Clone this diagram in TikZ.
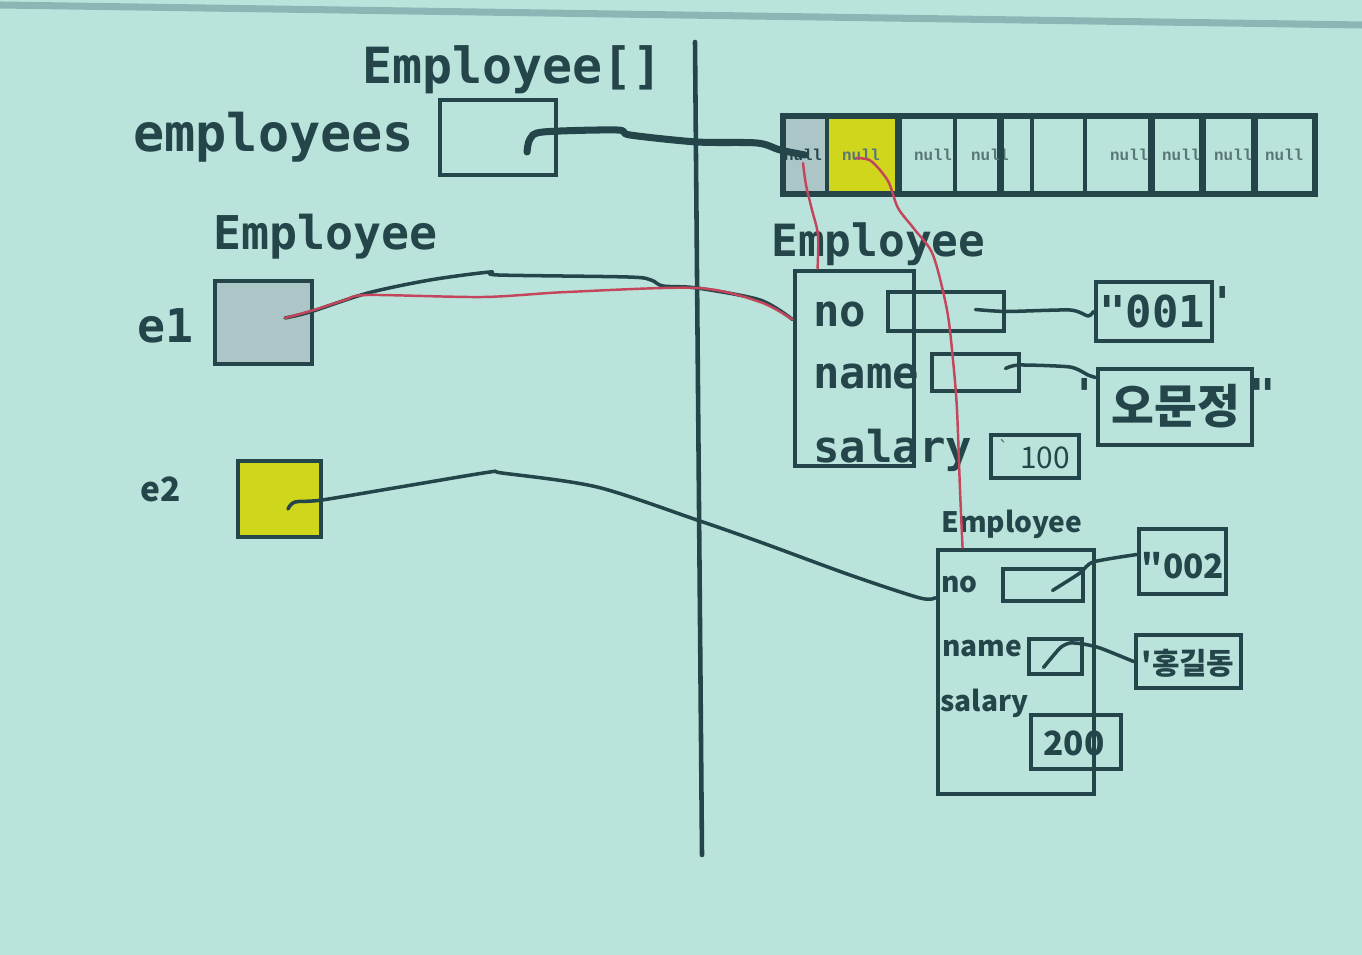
\documentclass[tikz,border=0pt]{standalone}
\usepackage{fontspec}
\newfontfamily\monof{DejaVu Sans Mono}
\newfontfamily\krf{Noto Sans CJK KR}
\newfontfamily\cellf{Liberation Mono}
\usetikzlibrary{fit,calc}
\definecolor{bg}{RGB}{186,228,219}
\definecolor{bgband}{RGB}{140,182,182}
\definecolor{ink}{RGB}{36,70,74}
\definecolor{refgray}{RGB}{172,198,200}
\definecolor{refyel}{RGB}{208,214,28}
\definecolor{pen}{RGB}{196,70,92}
\definecolor{nullc}{RGB}{88,118,118}
\begin{document}
\begin{tikzpicture}[x=0.02cm,y=-0.02cm,
  box/.style={draw=ink,line width=2.8pt,inner sep=0pt},
  cellbox/.style={draw=ink,line width=2.6pt,inner sep=0pt},
  lbl/.style={text=ink,inner sep=0pt,anchor=base west},
  txt/.style={text=ink,inner sep=0pt},
  nulltxt/.style={text=nullc,inner sep=0pt,font=\cellf\bfseries\fontsize{9}{10}\selectfont},
  ptr/.style={draw=ink,line width=2pt,line cap=round,line join=round},
  bigptr/.style={draw=ink,line width=4pt,line cap=round,line join=round},
  penline/.style={draw=pen,line width=1.4pt,line cap=round,line join=round},
  monobig/.style={font=\monof\bfseries\fontsize{28.4}{30}\selectfont},
  monomid/.style={font=\monof\bfseries\fontsize{26.5}{28}\selectfont},
  monofld/.style={font=\monof\bfseries\fontsize{25}{27}\selectfont},
  sansfld/.style={font=\krf\bfseries\fontsize{16}{18}\selectfont},
]
\fill[bg] (0,0) rectangle (1362,955);
\useasboundingbox (0,0) rectangle (1362,955);
\draw[bgband,line width=4pt] (0,5) -- (1362,25);

% divider
\draw[ink,line width=2.6pt,line cap=round] (695,42) -- (702,855);

% left side
\node[lbl,monobig] (tArr) at (362,84) {Employee[]};
\node[lbl,font=\monof\bfseries\fontsize{29.5}{31}\selectfont] (tEmps) at (133,152) {employees};
\node[box,fit={(440,100) (556,175)}] (emps) {};
\node[lbl,monomid] (tEmpL) at (213,250) {Employee};
\node[lbl,monomid] (tE1) at (137,343) {e1};
\node[box,fill=refgray,fit={(215,281) (312,364)}] (e1) {};
\node[txt,font=\krf\bfseries\fontsize{19}{21}\selectfont] (tE2) at (161,489) {e2};
\node[box,fill=refyel,fit={(238,461) (321,537)}] (e2) {};

% array
\node[cellbox,fill=refgray,fit={(783,116) (827,194)}] (c1) {};
\node[cellbox,fill=refyel,fit={(827,116) (897,194)}] (c2) {};
\node[cellbox,fit={(897,116) (955,194)}] (c3) {};
\node[cellbox,fit={(955,116) (999,194)}] (c4) {};
\node[cellbox,fit={(999,116) (1032,194)}] (c5) {};
\node[cellbox,fit={(1032,116) (1085,194)}] (c6) {};
\node[cellbox,fit={(1085,116) (1150,194)}] (c7) {};
\node[cellbox,fit={(1150,116) (1201,194)}] (c8) {};
\node[cellbox,fit={(1201,116) (1253,194)}] (c9) {};
\node[cellbox,fit={(1253,116) (1315,194)}] (c10) {};
\node[nulltxt,text=ink] (n1) at (803,155) {null};
\node[nulltxt] (n2) at (861,155) {null};
\node[nulltxt] (n3) at (933,155) {null};
\node[nulltxt] (n4) at (990,155) {null};
\node[nulltxt] (n7) at (1129,155) {null};
\node[nulltxt] (n8) at (1181,155) {null};
\node[nulltxt] (n9) at (1233,155) {null};
\node[nulltxt] (n10) at (1284,155) {null};
\draw[ink,line width=2.6pt] (c2.north east) -- (c2.south east);
\draw[ink,line width=2.6pt] (c4.north east) -- (c4.south east);
\draw[ink,line width=2.6pt] (c7.north east) -- (c7.south east);
\draw[ink,line width=2.6pt] (c8.north east) -- (c8.south east);
\draw[ink,line width=2.6pt] (c9.north east) -- (c9.south east);
\node[draw=ink,line width=3pt,inner sep=0pt,fit={(783,116) (1315,194)}] (arr) {};

% object 1
\node[lbl,font=\monof\bfseries\fontsize{25.3}{27}\selectfont] (tEmpR) at (771,257) {Employee};
\node[box,fit={(795,271) (914,466)}] (obj1) {};
\node[lbl,monofld] (tNo1) at (813,327) {no};
\node[lbl,monofld] (tName1) at (813,389) {name};
\node[lbl,monofld] (tSal1) at (813,463) {salary};
\node[box,fit={(888,292) (1004,331)}] (f1no) {};
\node[box,fit={(932,354) (1019,391)}] (f1nm) {};
\node[box,fit={(991,435) (1079,478)}] (f1sal) {};
\node[txt,font=\krf\fontsize{17}{19}\selectfont] (v100) at (1045,458) {100};
\node[txt,font=\krf\fontsize{10}{12}\selectfont,text=nullc] (tick) at (1004,447) {`};
\node[box,fit={(1096,282) (1212,341)}] (s1no) {};
\node[txt,monofld] (v001) at (1152,312) {\symbol{34}001};
\node[txt,monofld] (q001) at (1223,302) {\symbol{39}};
\node[box,fit={(1098,369) (1252,445)}] (s1nm) {};
\node[txt,font=\krf\bfseries\fontsize{26.5}{28}\selectfont] (vOMJ) at (1176,406) {오문정};
\node[txt,monofld] (qa) at (1085,394) {\symbol{39}};
\node[txt,monofld] (qb) at (1263,394) {\symbol{34}};

% object 2
\node[lbl,font=\krf\bfseries\fontsize{16}{18}\selectfont] (tEmp2) at (941,533) {Employee};
\node[box,fit={(938,550) (1094,794)}] (obj2) {};
\node[lbl,sansfld] (tNo2) at (941,593) {no};
\node[lbl,sansfld] (tName2) at (942,656) {name};
\node[lbl,sansfld] (tSal2) at (940,711) {salary};
\node[box,fit={(1003,569) (1083,601)}] (f2no) {};
\node[box,fit={(1029,639) (1082,674)}] (f2nm) {};
\node[box,fit={(1031,715) (1121,769)}] (f2sal) {};
\node[txt,font=\krf\bfseries\fontsize{19}{21}\selectfont] (v200) at (1074,743) {200};
\node[box,fit={(1139,529) (1226,594)}] (s2no) {};
\node[txt,font=\krf\bfseries\fontsize{19}{21}\selectfont] (v002) at (1183,566) {\symbol{34}002};
\node[box,fit={(1136,635) (1241,688)}] (s2nm) {};
\node[txt,font=\krf\bfseries\fontsize{17}{19}\selectfont] (vHGD) at (1188,663) {\symbol{39}홍길동};

% connector end coordinates
\coordinate (empdot) at (527,152);
\coordinate (e1dot) at (285,318);
\coordinate (e2dot) at (288,509);
\coordinate (o1in) at ($(obj1.north west)+(0,51)$);
\coordinate (o2in) at ($(obj2.north west)+(0,50)$);
\coordinate (o1top) at ($(obj1.north west)+(25,0)$);
\coordinate (o2top) at ($(obj2.north west)+(27,0)$);
\coordinate (f1noin) at ($(f1no.east)+(-31,-2)$);
\coordinate (f1nmin) at ($(f1nm.east)+(-16,-4)$);
\coordinate (s1nmin) at ($(s1nm.north west)+(0,11)$);
\coordinate (f2noin) at ($(f2no.south west)+(52,-13)$);
\coordinate (s2noin) at ($(s2no.north west)+(0,28)$);
\coordinate (f2nmin) at ($(f2nm.south west)+(17,-9)$);
\coordinate (c1pen) at ($(c1.center)+(-2,8)$);
\coordinate (c2pen) at ($(c2.center)+(-6,3)$);

% black pointers
\draw[bigptr] plot[smooth,tension=0.5] coordinates {(empdot) (530,139) (543,132) (617,130) (630,135) (697,142) (757,143) (780,150) (c1.center)};
\draw[ptr] plot[smooth,tension=0.5] coordinates {(e1dot) (310,312) (368,293) (430,280) (490,272) (498,275) (628,277) (651,280) (663,286) (697,288) (760,300) (o1in)};
\draw[ptr] plot[smooth,tension=0.5] coordinates {(e2dot) (295,502) (322,500) (400,487) (490,472) (502,473) (597,487) (697,520) (760,542) (850,575) (920,598) (o2in)};
\draw[ptr] plot[smooth,tension=0.4] coordinates {(f1noin) (f1no.east) (1070,310) (1088,316) (s1no.west)};
\draw[ptr] plot[smooth,tension=0.4] coordinates {(f1nmin) (1019,365) (1070,367) (1088,375) (s1nmin)};
\draw[ptr] plot[smooth,tension=0.4] coordinates {(f2noin) (1080,573) (1093,562) (s2noin)};
\draw[ptr] plot[smooth,tension=0.4] coordinates {(f2nmin) (1060,648) (1070,643) (1083,644) (1100,648) (s2nm.west)};

% red pen lines
\draw[penline] plot[smooth,tension=0.5] coordinates {(e1dot) (314,310) (345,300) (368,295) (483,297) (567,292) (697,288) (760,302) (o1in)};
\draw[penline] plot[smooth,tension=0.5] coordinates {(c1pen) (806,185) (812,210) (818,235) (o1top)};
\draw[penline] plot[smooth,tension=0.5] coordinates {(c2pen) (871,161) (888,181) (898,208) (915,230) (933,255) (947,310) (953,360) (957,410) (960,490) (o2top)};
\end{tikzpicture}
\end{document}
